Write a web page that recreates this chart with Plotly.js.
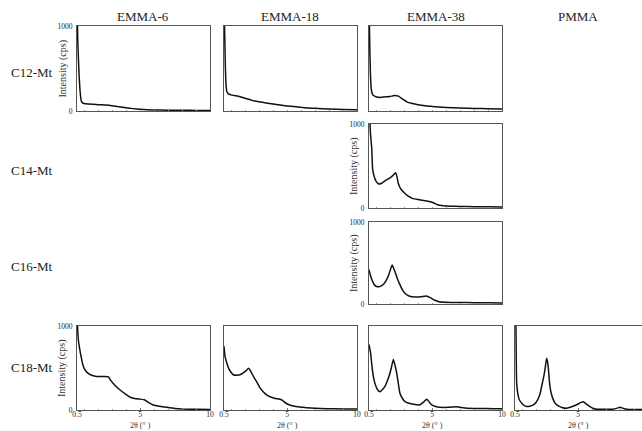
<!DOCTYPE html>
<html><head><meta charset="utf-8">
<script src="https://cdn.plot.ly/plotly-3.0.1.min.js"></script>
<style>html,body{margin:0;padding:0;background:#fff}#chart{width:642px;height:431px}</style>
</head><body><div id="chart"></div>
<script>
// ---- labels ----
const columnTitles = ["EMMA-6", "EMMA-18", "EMMA-38", "PMMA"];
const rowTitles = ["C12-Mt", "C14-Mt", "C16-Mt", "C18-Mt"];
const xTickVals = [0.5, 5, 10];
const xTickText = ["0.5", "5", "10"];
const yTickVals = [0, 1000];
const yTickText = ["0", "1000"];
const yTitle = "Intensity (cps)";
const xTitle = "2θ (° )";

// ---- data (2θ in degrees, intensity in cps) ----
const x_C12_EMMA6 = [0.5,0.55,0.6,0.65,0.7,0.75,0.8,0.9,1.0,1.3,1.7,2.0,2.5,3.0,3.5,4.0,4.5,5.0,5.5,6.0,7.0,8.0,9.0,10];
const y_C12_EMMA6 = [1300,850,620,420,280,180,120,95,88,82,78,75,70,62,50,38,28,20,14,12,9,8,7,6];

const x_C12_EMMA18 = [0.5,0.55,0.6,0.65,0.7,0.8,1.0,1.3,1.6,2.0,2.5,3.0,3.5,4.0,4.5,5.0,5.5,6.0,6.5,7.0,8.0,9.0,10];
const y_C12_EMMA18 = [1300,900,500,300,230,205,190,180,170,150,125,108,94,82,70,60,52,43,36,31,24,18,14];

const x_C12_EMMA38 = [0.5,0.55,0.6,0.65,0.7,0.8,1.0,1.3,1.6,2.0,2.3,2.6,2.9,3.2,3.6,4.0,4.5,5.0,5.5,6.0,7.0,8.0,9.0,10];
const y_C12_EMMA38 = [1300,800,450,280,220,185,168,160,165,170,182,175,140,108,88,74,62,54,47,42,36,30,27,24];

const x_C14_EMMA38 = [0.5,0.55,0.6,0.65,0.7,0.75,0.8,0.9,1.0,1.2,1.4,1.7,2.0,2.2,2.4,2.5,2.6,2.8,3.0,3.3,3.6,4.0,4.4,4.8,5.1,5.4,5.8,6.4,7.0,8.0,9.0,10];
const y_C14_EMMA38 = [1300,1100,900,800,700,480,420,360,320,285,295,330,360,385,420,370,290,220,185,140,115,100,88,78,62,38,28,22,18,16,14,13];

const x_C16_EMMA38 = [0.5,0.6,0.7,0.8,0.9,1.1,1.3,1.5,1.7,1.9,2.05,2.15,2.3,2.5,2.7,2.9,3.1,3.4,3.8,4.2,4.6,4.9,5.2,5.5,6.0,7.0,8.0,9.0,10];
const y_C16_EMMA38 = [420,350,300,260,230,210,215,235,280,350,430,475,420,320,240,170,125,95,85,88,98,75,45,28,22,18,16,14,13];

const x_C18_EMMA6 = [0.5,0.55,0.6,0.7,0.8,0.95,1.1,1.3,1.6,1.9,2.2,2.5,2.75,2.9,3.2,3.6,4.0,4.3,4.7,5.0,5.3,5.6,5.95,6.4,6.9,7.5,8.0,9.0,10];
const y_C18_EMMA6 = [1300,950,830,720,630,520,470,435,410,400,398,400,395,355,295,235,185,152,135,130,122,92,60,45,32,18,12,8,6];

const x_C18_EMMA18 = [0.5,0.57,0.7,0.85,1.0,1.16,1.4,1.64,1.9,2.12,2.24,2.35,2.48,2.65,2.84,3.05,3.3,3.55,3.79,4.1,4.5,4.7,4.86,5.1,5.45,5.9,6.4,7.0,7.84,9.0,10];
const y_C18_EMMA18 = [760,640,560,490,450,420,415,420,445,475,498,480,440,385,335,270,218,180,158,140,128,112,88,65,48,36,28,22,16,13,12];

const x_C18_EMMA38 = [0.5,0.62,0.7,0.81,0.92,1.05,1.18,1.29,1.45,1.64,1.82,2.0,2.12,2.24,2.36,2.48,2.6,2.71,2.88,3.07,3.35,3.66,4.14,4.4,4.62,4.8,4.98,5.25,5.57,6.2,6.76,7.1,7.5,8.5,9.38,10];
const y_C18_EMMA38 = [780,670,540,400,320,260,228,218,240,280,350,440,520,600,530,440,310,200,140,100,80,68,62,95,128,95,60,42,32,32,40,30,20,17,16,15];

const x_C18_PMMA = [0.5,0.55,0.57,0.62,0.74,0.85,0.98,1.15,1.33,1.55,1.81,2.0,2.17,2.3,2.4,2.52,2.64,2.76,2.82,2.88,2.94,3.0,3.1,3.24,3.4,3.6,3.9,4.19,4.5,4.9,5.2,5.38,5.6,5.86,6.1,6.33,7.0,7.5,7.8,8.0,8.2,8.48,9.0,9.57];
const y_C18_PMMA = [1300,1100,970,320,160,110,80,55,42,45,62,90,140,200,280,370,480,615,580,500,380,280,190,120,75,48,28,22,35,62,88,98,70,40,18,10,9,10,22,32,22,10,6,5];

// ---- panel layout (pixel boxes) ----
const W = 642, H = 431;
const colPx = [[77,210],[224,357],[369,502],[515,642]];
const rowPx = [[26,111],[124,208],[222,304],[326,410]];
const panels = [
  {x:x_C12_EMMA6,  y:y_C12_EMMA6,  r:0, c:0, ylab:true},
  {x:x_C12_EMMA18, y:y_C12_EMMA18, r:0, c:1, ylab:false},
  {x:x_C12_EMMA38, y:y_C12_EMMA38, r:0, c:2, ylab:false},
  {x:x_C14_EMMA38, y:y_C14_EMMA38, r:1, c:2, ylab:true},
  {x:x_C16_EMMA38, y:y_C16_EMMA38, r:2, c:2, ylab:true},
  {x:x_C18_EMMA6,  y:y_C18_EMMA6,  r:3, c:0, ylab:true},
  {x:x_C18_EMMA18, y:y_C18_EMMA18, r:3, c:1, ylab:false},
  {x:x_C18_EMMA38, y:y_C18_EMMA38, r:3, c:2, ylab:false},
  {x:x_C18_PMMA,   y:y_C18_PMMA,   r:3, c:3, ylab:false}
];

const FONT = "Liberation Serif, Times New Roman, serif";
const traces = [];
const layout = {
  width: W, height: H,
  margin: {l:0, r:0, t:0, b:0},
  paper_bgcolor: "#fff", plot_bgcolor: "#fff",
  showlegend: false,
  font: {family: FONT, color: "#222", size: 9},
  annotations: []
};

panels.forEach((p, i) => {
  const n = i + 1;
  const xa = "xaxis" + (n === 1 ? "" : n), ya = "yaxis" + (n === 1 ? "" : n);
  const xr = "x" + (n === 1 ? "" : n), yr = "y" + (n === 1 ? "" : n);
  traces.push({x: p.x, y: p.y, type: "scatter", mode: "lines",
    line: {color: "#111", width: 1.5, shape: "spline", smoothing: 0.5},
    xaxis: xr, yaxis: yr, hoverinfo: "skip"});
  const cp = colPx[p.c], rp = rowPx[p.r];
  let xmax = 10;
  if (p.c === 3) xmax = 0.5 + (cp[1] - cp[0]) / 133 * 9.5;
  const bottomRow = p.r === 3;
  layout[xa] = {
    domain: [cp[0] / W, cp[1] / W],
    range: [0.5, xmax], anchor: yr,
    showgrid: false, zeroline: false,
    showline: true, linecolor: "#555", linewidth: 1, mirror: true,
    tickmode: "array", tickvals: xTickVals,
    ticktext: bottomRow ? xTickText : ["", "", ""],
    showticklabels: bottomRow,
    ticks: "inside", ticklen: 2, tickcolor: "#777",
    ticklabelstandoff: -3,
    minor: {dtick: 1, tick0: 0, ticks: "inside", ticklen: 1.5, tickcolor: "#999"},
    tickfont: {size: 7.5, family: FONT, color: "#222"}
  };
  layout[ya] = {
    domain: [1 - rp[1] / H, 1 - rp[0] / H],
    range: [0, 1000], anchor: xr,
    showgrid: false, zeroline: false,
    showline: true, linecolor: "#555", linewidth: 1, mirror: true,
    tickmode: "array", tickvals: yTickVals, ticktext: yTickText,
    showticklabels: p.ylab, ticklabelstandoff: 2,
    ticks: "", tickfont: {size: 7.5, family: FONT, color: "#222"}
  };
  if (p.ylab) {
    layout.annotations.push({
      text: yTitle, textangle: -90, xref: "paper", yref: "paper",
      x: (cp[0] - 15) / W, y: 1 - ((rp[0] + rp[1]) / 2) / H,
      xanchor: "center", yanchor: "middle", showarrow: false,
      font: {size: 10, family: FONT, color: "#333"}
    });
  }
  if (bottomRow) {
    const ctr = cp[0] + (4.5 / 9.5) * 133;
    layout.annotations.push({
      text: xTitle, xref: "paper", yref: "paper",
      x: ctr / W, y: 0, xanchor: "center", yanchor: "bottom", borderpad: 0,
      showarrow: false, font: {size: 8, family: FONT, color: "#333"}
    });
  }
});

// column and row titles
const colCenters = [143, 290, 436, 578];
columnTitles.forEach((t, i) => layout.annotations.push({
  text: t, xref: "paper", yref: "paper", x: colCenters[i] / W, y: 1 - 16 / H,
  xanchor: "center", yanchor: "middle", showarrow: false,
  font: {size: 13, family: FONT, color: "#222"}
}));
const rowCenters = [72, 170, 266, 367];
rowTitles.forEach((t, i) => layout.annotations.push({
  text: t, xref: "paper", yref: "paper", x: 32 / W, y: 1 - rowCenters[i] / H,
  xanchor: "center", yanchor: "middle", showarrow: false,
  font: {size: 13, family: FONT, color: "#222"}
}));

Plotly.newPlot("chart", traces, layout, {displayModeBar: false, staticPlot: true});
</script></body></html>
